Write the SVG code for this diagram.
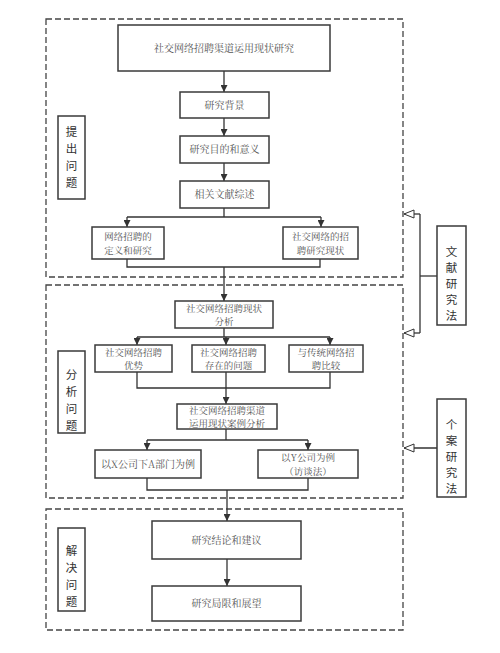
<svg xmlns="http://www.w3.org/2000/svg" width="500" height="653" viewBox="0 0 500 653">
<defs>
<marker id="arr" viewBox="0 0 10 10" refX="10" refY="5" markerWidth="7" markerHeight="7" orient="auto" markerUnits="userSpaceOnUse"><path d="M0,0 L10,5 L0,10 z" fill="#333"/></marker>
<marker id="hollow" viewBox="0 0 12 10" refX="11" refY="5" markerWidth="12" markerHeight="10" orient="auto" markerUnits="userSpaceOnUse"><path d="M1,1 L11,5 L1,9 z" fill="#fff" stroke="#333" stroke-width="1"/></marker>
</defs>
<style>
.box{fill:#fff;stroke:#3a3a3a;stroke-width:1.5}
.dash{fill:none;stroke:#444;stroke-width:1.3;stroke-dasharray:6 3}
.t{font-family:"Noto Serif CJK SC","Noto Sans CJK SC",serif;font-size:9.5px;fill:#555;text-anchor:middle}
.s{font-size:10px}
.lb{font-family:"Noto Sans CJK SC",sans-serif;font-size:11.5px;fill:#333;text-anchor:middle}
.ln{fill:none;stroke:#333;stroke-width:1.3}
</style>
<rect width="500" height="653" fill="#fff"/>
<g id="regions">
<rect class="dash" x="46" y="19" width="357" height="258"/>
<rect class="dash" x="46" y="285" width="357" height="213"/>
<rect class="dash" x="46" y="509" width="357" height="121"/>
</g>
<g id="connectors">
<path class="ln" d="M224,71 V92" marker-end="url(#arr)"/>
<path class="ln" d="M224,118 V136" marker-end="url(#arr)"/>
<path class="ln" d="M224,163 V181" marker-end="url(#arr)"/>
<path class="ln" d="M224,208 V217"/>
<path class="ln" d="M127,217 H321"/>
<path class="ln" d="M127,217 V227" marker-end="url(#arr)"/>
<path class="ln" d="M321,217 V227" marker-end="url(#arr)"/>
<path class="ln" d="M127,259 V267 H320 V259"/>
<path class="ln" d="M224,267 V301" marker-end="url(#arr)"/>
<path class="ln" d="M224,328 V337"/>
<path class="ln" d="M137,337 H330"/>
<path class="ln" d="M137,337 V345" marker-end="url(#arr)"/>
<path class="ln" d="M226,337 V345" marker-end="url(#arr)"/>
<path class="ln" d="M330,337 V345" marker-end="url(#arr)"/>
<path class="ln" d="M137,372 V388 H330 V372"/>
<path class="ln" d="M226,372 V388"/>
<path class="ln" d="M226,388 V404" marker-end="url(#arr)"/>
<path class="ln" d="M226,429 V440"/>
<path class="ln" d="M147,440 H308"/>
<path class="ln" d="M147,440 V450" marker-end="url(#arr)"/>
<path class="ln" d="M308,440 V450" marker-end="url(#arr)"/>
<path class="ln" d="M147,478 V490 H308 V478"/>
<path class="ln" d="M227,490 V521" marker-end="url(#arr)"/>
<path class="ln" d="M227,559 V586" marker-end="url(#arr)"/>
<path class="ln" d="M437,276 H420"/>
<path class="ln" d="M420,214 V333"/>
<path class="ln" d="M420,214 H404" marker-end="url(#hollow)"/>
<path class="ln" d="M420,333 H404" marker-end="url(#hollow)"/>
<path class="ln" d="M437,448 H404" marker-end="url(#hollow)"/>
</g>
<g id="n-title"><rect class="box" x="118" y="25" width="212" height="46"/><text class="t s" x="224" y="52">社交网络招聘渠道运用现状研究</text></g>
<g id="n-bg"><rect class="box" x="180" y="92" width="89" height="26"/><text class="t s" x="224.5" y="109">研究背景</text></g>
<g id="n-goal"><rect class="box" x="180" y="136" width="89" height="27"/><text class="t s" x="224.5" y="153">研究目的和意义</text></g>
<g id="n-lit"><rect class="box" x="180" y="181" width="89" height="27"/><text class="t s" x="224.5" y="198">相关文献综述</text></g>
<g id="n-def"><rect class="box" x="92" y="227" width="72" height="32"/><text class="t" x="128" y="240">网络招聘的</text><text class="t" x="128" y="254">定义和研究</text></g>
<g id="n-soc"><rect class="box" x="283" y="227" width="75" height="32"/><text class="t" x="320.5" y="240">社交网络的招</text><text class="t" x="320.5" y="254">聘研究现状</text></g>
<g id="n-anal"><rect class="box" x="175" y="301" width="98" height="27"/><text class="t" x="224" y="311.5">社交网络招聘现状</text><text class="t" x="224" y="325">分析</text></g>
<g id="n-adv"><rect class="box" x="95" y="345" width="77" height="27"/><text class="t" x="133.5" y="355.5">社交网络招聘</text><text class="t" x="133.5" y="369">优势</text></g>
<g id="n-prob"><rect class="box" x="192" y="345" width="73" height="27"/><text class="t" x="228.5" y="355.5">社交网络招聘</text><text class="t" x="228.5" y="369">存在的问题</text></g>
<g id="n-cmp"><rect class="box" x="289" y="345" width="74" height="27"/><text class="t" x="326" y="355.5">与传统网络招</text><text class="t" x="326" y="369">聘比较</text></g>
<g id="n-case"><rect class="box" x="177" y="404" width="100" height="25"/><text class="t" x="227" y="413.5">社交网络招聘渠道</text><text class="t" x="227" y="427">运用现状案例分析</text></g>
<g id="n-x"><rect class="box" x="95" y="450" width="106" height="28"/><text class="t s" x="148" y="467.5">以X公司下A部门为例</text></g>
<g id="n-y"><rect class="box" x="258" y="450" width="100" height="28"/><text class="t" x="308" y="461">以Y公司为例</text><text class="t" x="308" y="474.5">（访谈法）</text></g>
<g id="n-concl"><rect class="box" x="152" y="521" width="149" height="38"/><text class="t s" x="226.5" y="544">研究结论和建议</text></g>
<g id="n-lim"><rect class="box" x="152" y="586" width="149" height="35"/><text class="t s" x="226.5" y="607">研究局限和展望</text></g>
<g id="lab-1"><rect class="box" x="58" y="116" width="27" height="83"/><text class="lb" x="71.5" y="136">提</text><text class="lb" x="71.5" y="153">出</text><text class="lb" x="71.5" y="170">问</text><text class="lb" x="71.5" y="187">题</text></g>
<g id="lab-2"><rect class="box" x="58" y="351" width="27" height="82"/><text class="lb" x="71.5" y="379">分</text><text class="lb" x="71.5" y="396">析</text><text class="lb" x="71.5" y="413">问</text><text class="lb" x="71.5" y="430">题</text></g>
<g id="lab-3"><rect class="box" x="58" y="528" width="27" height="83"/><text class="lb" x="71.5" y="555">解</text><text class="lb" x="71.5" y="572">决</text><text class="lb" x="71.5" y="589">问</text><text class="lb" x="71.5" y="606">题</text></g>
<g id="m-lit"><rect class="box" x="437" y="226" width="29" height="99"/><text class="lb" x="451.5" y="256">文</text><text class="lb" x="451.5" y="272">献</text><text class="lb" x="451.5" y="288">研</text><text class="lb" x="451.5" y="304">究</text><text class="lb" x="451.5" y="320">法</text></g>
<g id="m-case"><rect class="box" x="437" y="399" width="29" height="98"/><text class="lb" x="451.5" y="429">个</text><text class="lb" x="451.5" y="445">案</text><text class="lb" x="451.5" y="461">研</text><text class="lb" x="451.5" y="477">究</text><text class="lb" x="451.5" y="493">法</text></g>
</svg>
